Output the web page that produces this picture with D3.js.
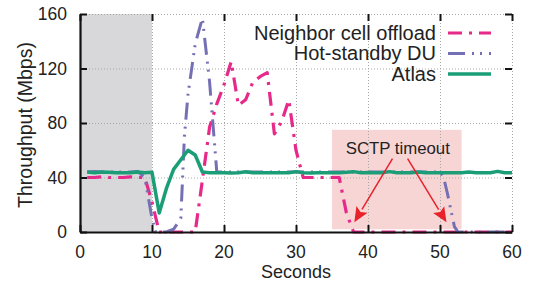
<!DOCTYPE html>
<html>
<head>
<meta charset="utf-8">
<script src="https://cdn.jsdelivr.net/npm/d3@7"></script>
<style>
  body { margin: 0; background: #fff; }
  svg { display: block; font-family: "Liberation Sans", Arial, sans-serif; }
</style>
</head>
<body>
<div class="container_graph"></div>
<script>
// series as [seconds, Mbps]
const neighborOffload = [
  [1, 40], [2, 40], [3, 40.5], [4, 40], [5, 40], [6, 40], [7, 40.5], [8, 40], [9, 40],
  [10, 22], [11, 0], [12, 0], [13, 0], [14, 0], [15, 0], [16, 0], [17, 38], [18, 77],
  [19, 94], [20, 108], [21, 125], [22, 93], [23, 97], [24, 110], [25, 114], [26, 117],
  [27, 72], [28, 81], [29, 97], [30, 60], [31, 40], [32, 40], [33, 40], [34, 40],
  [35, 40], [36, 40], [37, 14], [38, 0], [40, 0], [45, 0], [50, 0], [55, 0], [60, 0]
];

const hotStandby = [
  [1, 44], [2, 44.5], [3, 44], [4, 44], [5, 44], [6, 44], [7, 44], [8, 44.5], [9, 40],
  [10, 10], [10.5, 0], [12, 0], [13, 2], [14, 10], [14.5, 70], [15, 101], [16, 138],
  [17, 157], [18, 110], [19, 44], [20, 44], [25, 44], [30, 44], [35, 44], [40, 44],
  [45, 44], [50, 44], [50.5, 40], [51, 29], [52, 4], [52.5, 0], [55, 0], [60, 0]
];

const atlas = [
  [1, 44], [2, 43.5], [3, 44], [4, 43.8], [5, 43.5], [6, 43.5], [7, 43.5], [8, 44],
  [9, 43.5], [10, 43.8], [11, 14], [12, 32], [13, 46], [14, 53], [15, 60], [16, 56.5],
  [17, 44], [18, 43.5], [19, 43.5], [20, 43.5], [21, 43.3], [22, 43.5], [23, 44.2],
  [24, 43.5], [25, 43.5], [26, 43.5], [27, 43.5], [28, 43.5], [29, 43.5], [30, 44.3],
  [31, 43.5], [32, 43.3], [33, 43.5], [34, 43.5], [35, 43.5], [36, 43.5], [37, 43.8],
  [38, 44.3], [39, 43.5], [40, 43.6], [41, 43.5], [42, 43.5], [43, 44.3], [44, 43.5],
  [45, 43.5], [46, 43.5], [47, 44], [48, 43.5], [49, 43.5], [50, 43.5], [51, 43.5],
  [52, 43.5], [53, 43.5], [54, 44], [55, 43.5], [56, 43.5], [57, 43.5], [58, 44.5],
  [59, 43.5], [60, 43.5]
];

const seriesNames = ["Neighbor cell offload", "Hot-standby DU", "Atlas"];
const xTicks = [0, 10, 20, 30, 40, 50, 60];
const yTicks = [0, 40, 80, 120, 160];

// shaded spans (seconds / Mbps)
const failureSpan = [0, 10];
const timeoutSpan = [35, 53];
const timeoutRange = [2, 75];
const timeoutArrows = [
  [[43.4, 53.9], [38.1, 7.1]],
  [[45.5, 53.9], [50.9, 7.1]]
];

// medidas
const width = 533;
const height = 282;
const margin = { top: 14, right: 21, bottom: 50, left: 80 };
const innerWidth = width - margin.left - margin.right;
const innerHeight = height - margin.top - margin.bottom;

const svg = d3
  .select(".container_graph")
  .append("svg")
  .attr("width", width)
  .attr("height", height);

const x = d3.scaleLinear([0, 60], [margin.left, margin.left + innerWidth]);
const y = d3.scaleLinear([0, 160], [margin.top + innerHeight, margin.top]);

const styles = [
  { color: "#e7298a", width: 3.2, dash: "14,7,3,7" },
  { color: "#7570b3", width: 3, dash: "17,7,2,6,2,7" },
  { color: "#1b9e77", width: 3.5, dash: null }
];

// shaded areas
svg.append("rect")
  .attr("x", x(failureSpan[0]))
  .attr("y", y(160))
  .attr("width", x(failureSpan[1]) - x(failureSpan[0]))
  .attr("height", y(0) - y(160))
  .attr("fill", "#d8d8da");

svg.append("rect")
  .attr("x", x(timeoutSpan[0]))
  .attr("y", y(timeoutRange[1]))
  .attr("width", x(timeoutSpan[1]) - x(timeoutSpan[0]))
  .attr("height", y(timeoutRange[0]) - y(timeoutRange[1]))
  .attr("fill", "#f8d5d5");

// grid dotted
const grid = svg.append("g").attr("class", "grid");
grid.append("g")
  .attr("transform", `translate(${margin.left},0)`)
  .call(d3.axisLeft(y).tickValues(yTicks.slice(1)).tickSize(-innerWidth).tickFormat(""));
grid.append("g")
  .attr("transform", `translate(0,${margin.top})`)
  .call(d3.axisBottom(x).tickValues(xTicks.slice(1)).tickSize(innerHeight).tickFormat(""));
grid.selectAll(".domain").remove();
grid.selectAll("text").remove();
grid.selectAll("line")
  .attr("stroke", "#a8a8a8")
  .attr("stroke-width", 1)
  .attr("stroke-dasharray", "1,2");

// lineas
const line = d3.line().x((d) => x(d[0])).y((d) => y(d[1]));
[neighborOffload, hotStandby, atlas].forEach((data, i) => {
  svg.append("path")
    .datum(data)
    .attr("fill", "none")
    .attr("stroke", styles[i].color)
    .attr("stroke-width", styles[i].width)
    .attr("stroke-dasharray", styles[i].dash)
    .attr("stroke-linejoin", "round")
    .attr("d", line);
});

// axes: ticks point inward and are mirrored on top and right
const axes = [
  svg.append("g")
    .attr("transform", `translate(${margin.left},0)`)
    .call(d3.axisLeft(y).tickValues(yTicks).tickSize(-7).tickSizeOuter(0).tickFormat("")),
  svg.append("g")
    .attr("transform", `translate(0,${margin.top + innerHeight})`)
    .call(d3.axisBottom(x).tickValues(xTicks).tickSize(-7).tickSizeOuter(0).tickFormat("")),
  svg.append("g")
    .attr("transform", `translate(0,${margin.top})`)
    .call(d3.axisTop(x).tickValues(xTicks).tickSize(-7).tickFormat("")),
  svg.append("g")
    .attr("transform", `translate(${margin.left + innerWidth},0)`)
    .call(d3.axisRight(y).tickValues(yTicks).tickSize(-7).tickFormat(""))
];
axes[2].select(".domain").remove();
axes[3].select(".domain").remove();
axes.forEach((a) => {
  a.selectAll("text").remove();
  a.selectAll("line").attr("stroke", "#111").attr("stroke-width", 2);
  a.selectAll(".domain").attr("stroke", "#111").attr("stroke-width", 2.2);
});

// tick labels
svg.append("g")
  .selectAll("text")
  .data(yTicks)
  .join("text")
  .attr("x", margin.left - 13)
  .attr("y", (d) => y(d) + 6.3)
  .attr("text-anchor", "end")
  .attr("fill", "#222")
  .style("font-size", "17.5px")
  .text((d) => d);

svg.append("g")
  .selectAll("text")
  .data(xTicks)
  .join("text")
  .attr("x", (d) => x(d))
  .attr("y", margin.top + innerHeight + 26)
  .attr("text-anchor", "middle")
  .attr("fill", "#222")
  .style("font-size", "17.5px")
  .text((d) => d);

// axis titles
svg.append("text")
  .attr("x", margin.left + innerWidth / 2)
  .attr("y", 278.2)
  .attr("text-anchor", "middle")
  .attr("fill", "#222")
  .style("font-size", "18px")
  .text("Seconds");

const yTitleX = 32;
const yTitleY = margin.top + innerHeight / 2 + 2;
svg.append("text")
  .attr("x", yTitleX)
  .attr("y", yTitleY)
  .attr("transform", `rotate(-90,${yTitleX},${yTitleY})`)
  .attr("text-anchor", "middle")
  .attr("fill", "#222")
  .style("font-size", "19.5px")
  .text("Throughput (Mbps)");

// legend
const legend = svg.append("g").attr("class", "legend");
seriesNames.forEach((name, i) => {
  const ly = 33 + i * 20.5;
  legend.append("text")
    .attr("x", 436)
    .attr("y", ly + 6.5)
    .attr("text-anchor", "end")
    .attr("fill", "#222")
    .style("font-size", "20px")
    .text(name);
  legend.append("line")
    .attr("x1", 448).attr("x2", 491)
    .attr("y1", ly).attr("y2", ly)
    .attr("stroke", styles[i].color)
    .attr("stroke-width", styles[i].width)
    .attr("stroke-dasharray", styles[i].dash);
});

// SCTP timeout annotation
svg.append("text")
  .attr("x", x((timeoutSpan[0] + timeoutSpan[1]) / 2) + 1)
  .attr("y", 154)
  .attr("text-anchor", "middle")
  .attr("fill", "#222")
  .style("font-size", "16.8px")
  .text("SCTP timeout");

const arrowColor = "#e8212b";
timeoutArrows.forEach(([from, to]) => {
  const x0 = x(from[0]), y0 = y(from[1]);
  const x1 = x(to[0]), y1 = y(to[1]);
  const len = Math.hypot(x1 - x0, y1 - y0);
  const ux = (x1 - x0) / len, uy = (y1 - y0) / len;
  const headLen = 15, headHalf = 6.5;
  const bx = x1 - ux * headLen, by = y1 - uy * headLen;
  svg.append("line")
    .attr("x1", x0).attr("y1", y0)
    .attr("x2", bx).attr("y2", by)
    .attr("stroke", arrowColor)
    .attr("stroke-width", 1.5);
  svg.append("path")
    .attr("d", `M${x1},${y1}L${bx - uy * headHalf},${by + ux * headHalf}L${bx + ux * 3},${by + uy * 3}L${bx + uy * headHalf},${by - ux * headHalf}Z`)
    .attr("fill", arrowColor);
});
</script>
</body>
</html>
